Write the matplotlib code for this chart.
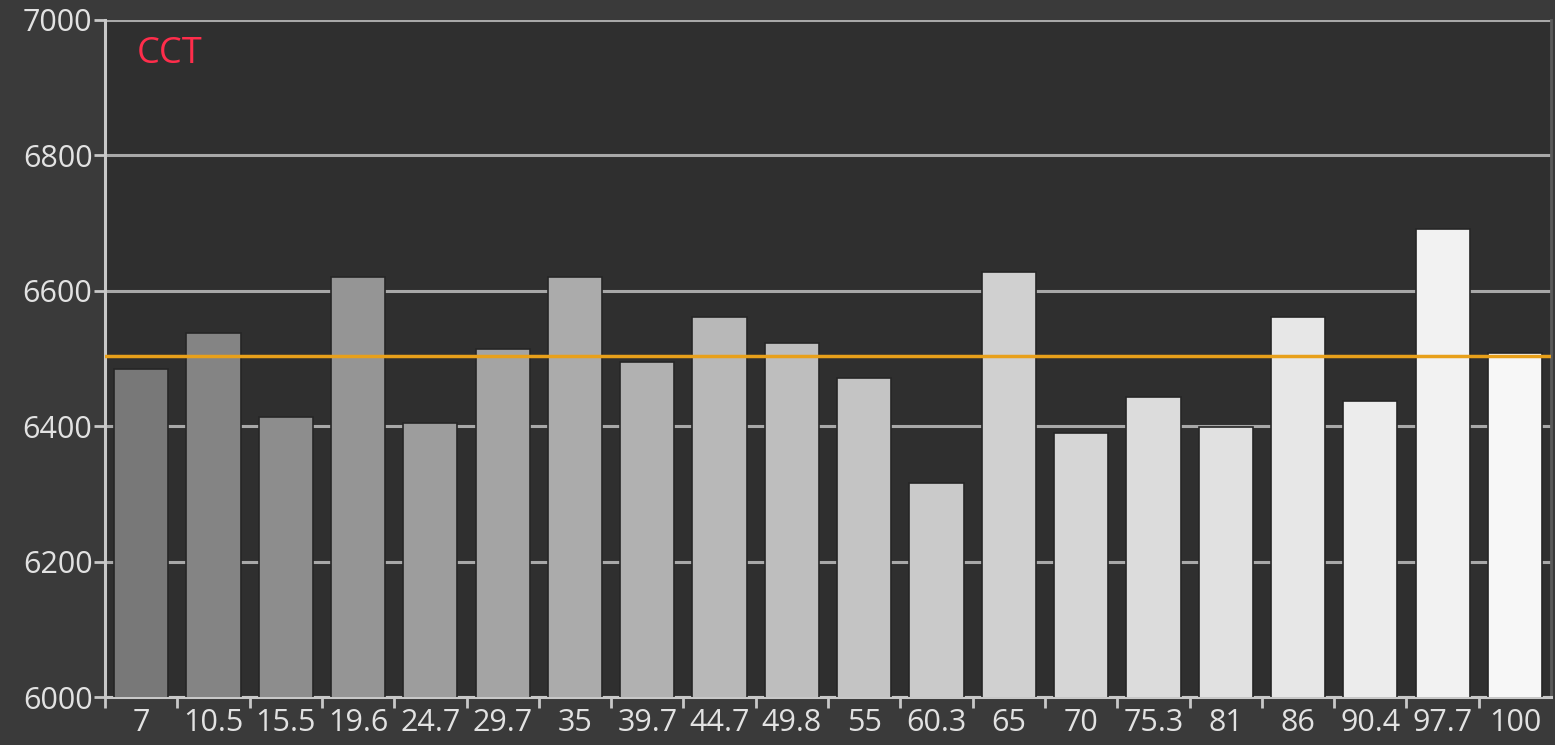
import matplotlib
matplotlib.use("Agg")
import matplotlib.pyplot as plt
import numpy as np

# stimulus levels (%) and measured correlated colour temperature (K)
levels = ["7", "10.5", "15.5", "19.6", "24.7", "29.7", "35", "39.7", "44.7", "49.8",
          "55", "60.3", "65", "70", "75.3", "81", "86", "90.4", "97.7", "100"]
cct = [6485, 6538, 6414, 6620, 6405, 6514, 6620, 6495, 6561, 6523,
       6471, 6316, 6628, 6390, 6443, 6399, 6561, 6437, 6691, 6508]
target_cct = 6504
y_ticks = [6000, 6200, 6400, 6600, 6800, 7000]

FIG_BG = "#3a3a3a"
AX_BG = "#2f2f2f"
LIGHT = "#e2e2e2"
TICK = "#c8c8c8"

plt.rcParams["font.family"] = ["Open Sans", "DejaVu Sans"]

fig = plt.figure(figsize=(15.55, 7.45), dpi=100, facecolor=FIG_BG)
ax = fig.add_axes([0.0675, 0.0644, 0.9300, 0.9088], facecolor=AX_BG)

x = np.arange(len(levels))
# grey ramp from dark to white across the levels
shades = 0.47 + 0.5 * np.linspace(0, 1, len(levels)) ** 0.8
colors = [(s, s, s) for s in shades]
ax.bar(x, cct, width=0.75, color=colors, edgecolor="#262626",
       linewidth=1.2, zorder=3)

ax.axhline(target_cct, color="#e8a01a", lw=2.5, zorder=4)

ax.set_ylim(6000, 7000)
ax.set_xlim(-0.5, len(levels) - 0.5)
ax.set_yticks(y_ticks)
ax.yaxis.grid(True, color="#a8a8a8", lw=2.2, zorder=1)
ax.set_axisbelow(True)

ax.set_xticks(x)
ax.set_xticklabels(levels)
ax.set_xticks(np.arange(len(levels)) - 0.5, minor=True)
ax.tick_params(axis="x", which="major", length=0, pad=8, labelsize=22, labelcolor=LIGHT)
ax.tick_params(axis="x", which="minor", length=8, width=2, color=TICK, direction="out")
ax.tick_params(axis="y", length=8, width=2, color=TICK, labelsize=22,
               labelcolor=LIGHT, pad=1)

for side in ("left", "bottom"):
    ax.spines[side].set_color(TICK)
    ax.spines[side].set_linewidth(2.2)
ax.spines["top"].set_visible(False)
ax.spines["right"].set_color("#5a5a5a")
ax.spines["right"].set_linewidth(2)

ax.text(0.022, 0.95, "CCT", transform=ax.transAxes, color="#ff2d4b",
        fontsize=26, ha="left", va="center")

fig.savefig("out.png", dpi=100, facecolor=FIG_BG)
